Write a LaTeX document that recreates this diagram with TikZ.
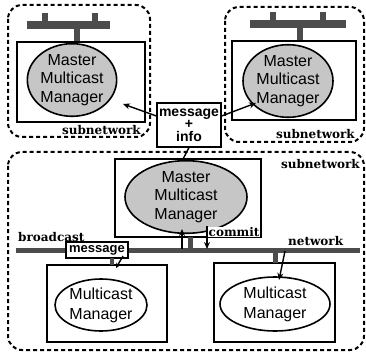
\documentclass[tikz,border=0pt]{standalone}
\usepackage{fontspec}
\newfontfamily\lab{Liberation Sans}
\newfontfamily\serb{DejaVu Serif}
\usetikzlibrary{arrows.meta,shapes.geometric}
\begin{document}
\begin{tikzpicture}[x=1pt,y=-1pt,
  subnet/.style={draw,line width=2pt,dash pattern=on 4pt off 3pt,rounded corners=14pt},
  hostbox/.style={draw,line width=1.6pt,inner sep=0pt},
  mmm/.style={ellipse,draw,line width=1.6pt,fill=gray!45,inner sep=0pt,align=center,font=\lab\fontsize{16}{18.5}\selectfont},
  mm/.style={ellipse,draw,line width=1.6pt,fill=white,inner sep=0pt,align=center,font=\lab\fontsize{16}{20}\selectfont},
  bar/.style={line width=8pt,draw=black!70},
  nbar/.style={line width=5pt,draw=black!70},
  stub/.style={line width=5pt,draw=black!70},
  lbl/.style={font=\serb\bfseries\fontsize{12}{12}\selectfont,inner sep=0pt},
  msg/.style={draw,line width=1.2pt,fill=white,font=\lab\bfseries\fontsize{14}{12.5}\selectfont,align=center,inner sep=1pt},
  arr/.style={line width=1.4pt,-{Stealth[length=7pt,width=6pt]}}
]
\useasboundingbox (0,0) rectangle (366,355);

% subnetwork frames
\draw[subnet] (8,5) rectangle (150,137);
\draw[subnet] (225,7) rectangle (364,142);
\draw[subnet] (8,152) rectangle (364,350);

% top-left host
\draw[bar] (27,25) -- (110,25);
\draw[stub,line width=6pt] (45,13) -- (45,22);
\draw[stub,line width=6pt] (95,13) -- (95,22);
\draw[stub,line width=6pt] (77,29) -- (77,42);
\draw[hostbox] (17,42) rectangle (145,122);
\node[mmm,minimum width=88pt,minimum height=64pt] (m1) at (72,80) {Master\\Multicast\\Manager};
\node[lbl,anchor=east] (s1) at (141,130) {subnetwork};

% top-right host
\draw[bar] (250,24) -- (346,24);
\draw[stub,line width=6pt] (273,12) -- (273,21);
\draw[stub,line width=6pt] (323,12) -- (323,21);
\draw[stub,line width=6pt] (300,28) -- (300,41);
\draw[hostbox] (232,41) rectangle (356,120);
\node[mmm,minimum width=90pt,minimum height=66pt] (m2) at (288,81) {Master\\Multicast\\Manager};
\node[lbl,anchor=east] (s2) at (355,134) {subnetwork};

% bottom subnetwork label
\node[lbl,anchor=east] (s3) at (360,164) {subnetwork};

% message + info box
\node[msg,minimum width=64pt,minimum height=44pt] (mi) at (189,125) {message\\+\\info};
\draw[arr] (mi.west |- 0,116) -- (123,104);
\draw[arr] (mi.east |- 0,116) -- (256,103);

% master box in bottom subnet
\draw[hostbox] (115,159) rectangle (261,237);
\node[mmm,minimum width=122pt,minimum height=67pt] (m3) at (186,197) {Master\\Multicast\\Manager};
\draw[line width=1.4pt] (mi.south) -- (183,159);

% network bar
\draw[nbar] (16,250) -- (360,250);
\node[lbl,anchor=west] (bc) at (18,237) {broadcast};
\node[lbl,anchor=west] (nw) at (288,241) {network};
\node[lbl,anchor=west,fill=white,inner sep=0.5pt] (cm) at (208,232) {commit};

% master connections
\draw[stub] (190,237) -- (190,248);
\draw[arr] (182,249) -- (182,229);
\draw[arr] (207,226) -- (207,249);

% message box on bar
\node[msg,minimum width=62pt,minimum height=16pt,font=\lab\bfseries\fontsize{13}{13}\selectfont,inner sep=0pt] (mg) at (97,250) {message};

% bottom-left host
\draw[hostbox] (47,265) rectangle (167,342);
\node[mm,minimum width=92pt,minimum height=52pt] (b1) at (101,305) {Multicast\\Manager};
\draw[stub,line width=4pt] (112,258) -- (112,265);
\draw[arr,-{Stealth[length=5pt,width=5pt]}] (123,256) -- (116,268);

% bottom-right host
\draw[hostbox] (214,263) rectangle (335,342);
\node[mm,minimum width=110pt,minimum height=54pt] (b2) at (275,304) {Multicast\\Manager};
\draw[stub] (275,252) -- (275,263);
\draw[arr] (285,251) -- (279,280);
\end{tikzpicture}
\end{document}
